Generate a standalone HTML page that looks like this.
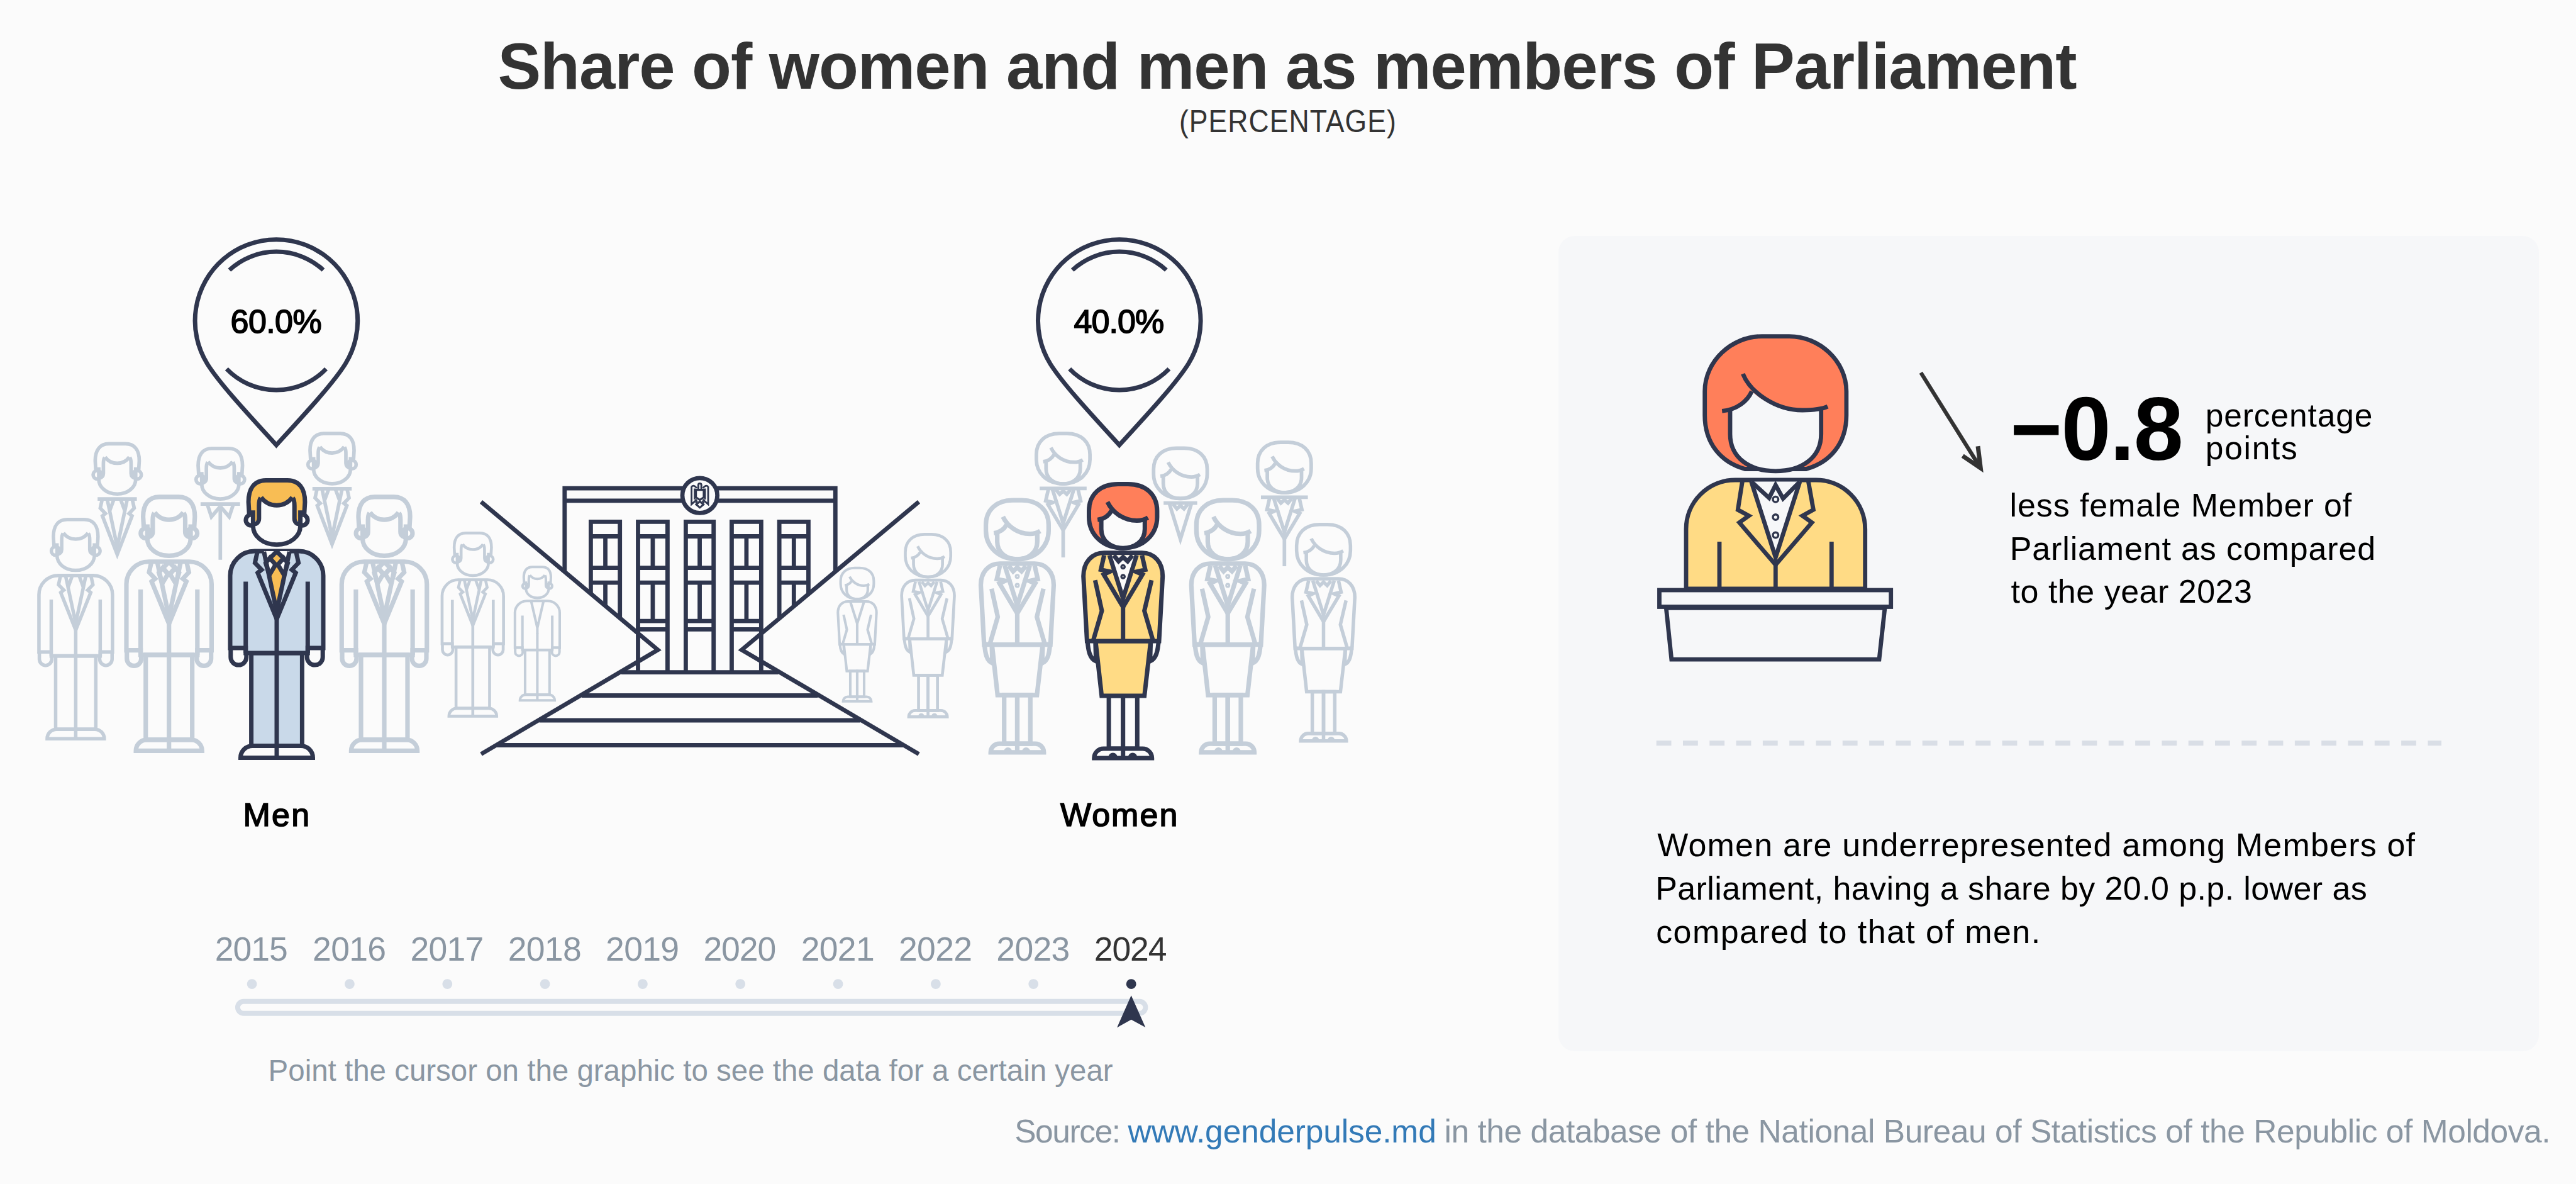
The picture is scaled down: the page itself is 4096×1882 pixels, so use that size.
<!DOCTYPE html>
<html lang="en">
<head>
<meta charset="utf-8">
<title>Share of women and men as members of Parliament</title>
<style>
html,body{margin:0;padding:0;}
body{width:4096px;height:1882px;background:#fbfbfb;position:relative;overflow:hidden;font-family:"Liberation Sans",sans-serif;}
svg#art{position:absolute;left:0;top:0;width:4096px;height:1882px;}
.t{position:absolute;white-space:nowrap;line-height:1;margin:0;padding:0;}
.card{position:absolute;left:2478px;top:375px;width:1559px;height:1296px;background:#f6f7f9;border-radius:26px;}
.dk{--s:#2f364e;}
.bg{--s:#c4ced9;--a:none;--b:none;--w:none;}
.mainman{--a:#c9d9e9;--b:#f8bd54;--w:#fbfbfb;}
.mainwoman{--a:#ffdb85;--b:#ff7f5a;--w:#fbfbfb;}
.fig{stroke:var(--s);stroke-width:7;fill:none;stroke-linejoin:miter;stroke-miterlimit:10;}
</style>
</head>
<body>
<div class="card"></div>
<svg id="art" viewBox="0 0 4096 1882">
<defs>
<!-- MAN HEAD -->
<g id="manHead">
  <circle cx="-40.5" cy="66.7" r="8.6" fill="var(--w)"/>
  <circle cx="40.5" cy="66.7" r="8.6" fill="var(--w)"/>
  <path d="M-37.6,51.3 L-37.6,76 C-37.6,92 -22,105.8 0,105.8 C22,105.8 37.6,92 37.6,76 L37.6,51.3 Z" fill="var(--w)" stroke="none"/>
  <path d="M-43.6,60 L-44.9,38 C-44.9,16 -35,3.5 -17,3.5 L17,3.5 C35,3.5 44.9,16 44.9,38 L43.6,60 L37.6,60 L37.6,68 L28.2,68 L28.2,44 C28.2,38 27.5,34 25,31.5 A31,31 0 0 1 -25,31.5 C-27.5,34 -28.2,38 -28.2,44 L-28.2,68 L-37.6,68 L-37.6,60 Z" fill="var(--b)" stroke="none"/>
  <path d="M-43.6,60 L-44.9,38 C-44.9,16 -35,3.5 -17,3.5 L17,3.5 C35,3.5 44.9,16 44.9,38 L43.6,60"/>
  <path d="M-37.6,51.3 L-37.6,76 C-37.6,92 -22,105.8 0,105.8 C22,105.8 37.6,92 37.6,76 L37.6,51.3"/>
  <path d="M-36,73 C-32,73 -28.2,70 -28.2,64 L-28.2,44 C-28.2,38 -27.5,34 -25.5,31.5 M36,73 C32,73 28.2,70 28.2,64 L28.2,44 C28.2,38 27.5,34 25.5,31.5"/>
  <path d="M-24.8,30.5 A30.6,30.6 0 0 0 24.8,30.5"/>
</g>
<!-- MAN TORSO DETAILS (lapels, shirt, tie) -->
<g id="manChest">
  <path d="M-20.3,116 L20.3,116 L0,212 Z" fill="var(--w)" stroke="none"/>
  <path d="M0,139.5 L-11.7,154 L0,210 L11.7,154 Z" fill="var(--b)" stroke="none"/>
  <path d="M-10.75,126.6 L-1.6,137.1 L-11.7,154 L-17.6,135.1 Z" fill="var(--w)"/>
  <path d="M10.75,126.6 L1.6,137.1 L11.7,154 L17.6,135.1 Z" fill="var(--w)"/>
  <path d="M0,116.5 L10.75,127.4 L0,139.5 L-10.75,127.4 Z" fill="var(--b)" stroke-linejoin="bevel"/>
  <path d="M-20.3,117 L0,212 L20.3,117"/>
  <path d="M-30.7,117 L-34.6,134.6 L-24.1,145.6 L-30.2,150.5 L0,224 L30.2,150.5 L24.1,145.6 L34.6,134.6 L30.7,117"/>
</g>
<!-- FULL MAN -->
<g id="manBody">
  <rect x="-40.4" y="278" width="80.8" height="147.5" fill="var(--a)"/>
  <path d="M-57.5,444.5 A19,19 0 0 1 -38.5,425.5 L38.5,425.5 A19,19 0 0 1 57.5,444.5 Z" fill="var(--w)"/>
  <path d="M-73.2,270 L-73.2,284.6 A12.5,12.5 0 0 0 -48.2,284.6 L-48.2,278" fill="var(--w)"/>
  <path d="M73.2,270 L73.2,284.6 A12.5,12.5 0 0 1 48.2,284.6 L48.2,278" fill="var(--w)"/>
  <path d="M-74,270 L-74,155 A39,39 0 0 1 -35,116 L35,116 A39,39 0 0 1 74,155 L74,270 L49.3,270 L49.3,278 L-49.3,278 L-49.3,270 Z" fill="var(--a)"/>
  <path d="M-49.3,164.5 L-49.3,278 M49.3,164.5 L49.3,278 M0,222 L0,444.5"/>
</g>
<g id="man">
  <use href="#manBody"/>
  <use href="#manChest"/>
  <use href="#manHead"/>
</g>
<!-- medium detail chest -->
<g id="manChest2">
  <path d="M-7,117 L-15,139 M7,117 L15,139"/>
  <path d="M-20.3,117 L0,212 L20.3,117"/>
  <path d="M-30.7,117 L-34.6,134.6 L-24.1,145.6 L-30.2,150.5 L0,226 L30.2,150.5 L24.1,145.6 L34.6,134.6 L30.7,117"/>
</g>
<g id="man2">
  <use href="#manBody"/>
  <use href="#manChest2"/>
  <use href="#manHead"/>
</g>
<g id="man1">
  <use href="#manBody"/>
  <path d="M-20.3,117 L0,205 L20.3,117 M0,200 L0,224"/>
  <use href="#manHead"/>
</g>
<!-- MAN BUST A: head + shoulder line + lapel V -->
<g id="manBustA">
  <use href="#manHead"/>
  <path d="M-40,116 L40,116"/>
  <path d="M-7,117 L-15,139 M7,117 L15,139"/>
  <path d="M-20.3,117 L0,214 L20.3,117"/>
  <path d="M-30.7,117 L-34.6,134.6 L-24.1,145.6 L-30.2,150.5 L0,229 L30.2,150.5 L24.1,145.6 L34.6,134.6 L30.7,117"/>
</g>
<!-- MAN BUST B: head + shoulder line + collar + stick -->
<g id="manBustB">
  <use href="#manHead"/>
  <path d="M-40,116 L40,116"/>
  <path d="M-26,118 L-18,142 L-1,122 M26,118 L18,142 L1,122"/>
  <path d="M0,120 L0,229"/>
</g>
<!-- WOMAN HEAD -->
<g id="womanHead">
  <path d="M0,3.5 L8,3.5 C36,3.5 54.2,20 54.2,46 L54.2,56 C54.2,82 34,105.2 0,105.2 C-34,105.2 -54.2,82 -54.2,56 L-54.2,46 C-54.2,20 -36,3.5 -8,3.5 Z" fill="var(--b)"/>
  <path d="M-34.6,59.5 L-34.6,75 C-34.6,95 -18,105.2 0,105.2 C18,105.2 34.6,95 34.6,75 L34.6,59 C29,61.5 25,61.5 22,61.5 C0,61.5 -12,55 -18,46.5 C-23,54 -28,58 -34.6,59.5 Z" fill="var(--w)" stroke="none"/>
  <path d="M-34.6,60 L-34.6,75 C-34.6,95 -18,105.2 0,105.2 C18,105.2 34.6,95 34.6,75 L34.6,60"/>
  <path d="M-24.8,31.9 C-17,48 0,61.5 22,61.5 C29,61.5 35,59.5 39.6,56.7"/>
  <path d="M-40.5,60.3 C-30,59 -23,54 -18.5,46"/>
</g>
<g id="womanChest">
  <path d="M-21.6,116.5 L21.6,116.5 L0,185.2 Z" fill="var(--w)" stroke="none"/>
  <path d="M-14.7,116.8 L-7.1,126.2 L0,119.5 L7.3,126.2 L14.9,116.8" fill="var(--w)"/>
  <circle cx="0" cy="135" r="2.6" stroke-width="3.4"/>
  <circle cx="0" cy="150.5" r="2.6" stroke-width="3.4"/>
  <path d="M-21.6,116.5 L0,185.2 L21.6,116.5"/>
  <path d="M-30,116.5 L-35.3,139.6 L-20.8,142.6 L-30.7,147.2 L0,198.9 L30.9,147.2 L21,142.9 L35.4,139.6 L30.1,116.5"/>
</g>
<g id="womanBody">
  <rect x="-22.6" y="340" width="22.6" height="84" fill="var(--w)"/>
  <rect x="0" y="340" width="22.6" height="84" fill="var(--w)"/>
  <path d="M-46,439 A15,15 0 0 1 -31,424 L31,424 A15,15 0 0 1 46,439 Z" fill="var(--w)"/>
  <path d="M0,424 L0,439"/>
  <path d="M-56.6,252 C-55.5,268 -53,281 -43,285 L-44,253 Z" fill="var(--w)"/>
  <path d="M56.6,252 C55.5,268 53,281 43,285 L44,253 Z" fill="var(--w)"/>
  <path d="M-43.7,253 L44,253 L34,340 L-34,340 Z" fill="var(--a)"/>
  <path d="M-57.3,253 L-63,150 C-63,128 -50,112.8 -30,112.8 L30,112.8 C50,112.8 63,128 63,150 L57.3,253 Z" fill="var(--a)"/>
  <path d="M-44.4,156.3 L-33.7,205 L-47.4,252 M45.3,156.3 L33.9,205 L47.6,252 M0,198 L0,253"/>
</g>
<g id="heels"><path d="M-23.2,437.5 a7.1,7.1 0 0 1 14.2,0 Z M8.2,437.5 a7.1,7.1 0 0 1 14.2,0 Z" fill="var(--s)" stroke="none"/></g>
<g id="woman">
  <use href="#womanBody"/>
  <use href="#heels"/>
  <use href="#womanChest"/>
  <use href="#womanHead"/>
</g>
<g id="womanChest2">
  <path d="M-14.7,116.8 L-7.1,126.2 L0,119.5 L7.3,126.2 L14.9,116.8"/>
  <path d="M-21.6,116.5 L0,185.2 L21.6,116.5"/>
  <path d="M-30,116.5 L-35.3,139.6 L-20.8,142.6 L-30.7,147.2 L0,198.9 L30.9,147.2 L21,142.9 L35.4,139.6 L30.1,116.5"/>
</g>
<g id="woman2">
  <use href="#womanBody"/>
  <use href="#heels"/>
  <use href="#womanChest2"/>
  <use href="#womanHead"/>
</g>
<g id="woman1">
  <use href="#womanBody"/>
  <path d="M-21.6,116.5 L0,185 L21.6,116.5 M0,180 L0,200"/>
  <use href="#womanHead"/>
</g>
<!-- WOMAN BUST A: head + shoulder line + lapels + stick -->
<g id="womanBustA">
  <use href="#womanHead"/>
  <path d="M-47.5,114.5 L47.5,114.5"/>
  <use href="#womanChest2"/>
  <path d="M0,198 L0,254"/>
</g>
<!-- WOMAN BUST B: head + short line + collar + triangle -->
<g id="womanBustB">
  <use href="#womanHead"/>
  <path d="M-34,114.5 L34,114.5"/>
  <path d="M-14.7,116.8 L-7.1,126.2 L0,119.5 L7.3,126.2 L14.9,116.8"/>
  <path d="M-22,116.5 L0,187.5 L22,116.5"/>
</g>
</defs>
<!-- ================= BUILDING ================= -->
<g stroke="#2f364e" stroke-width="6.8" fill="none" stroke-linecap="butt" stroke-linejoin="miter">
  <!-- outer -->
  <path d="M897.8,910 L897.8,776.2 L1328.3,776.2 L1328.3,910"/>
  <path d="M897.8,795.9 L1328.3,795.9"/>
  <!-- window columns 1 and 5 (clipped by wedges) -->
  <g id="winA">
    <path d="M939.4,1068.7 L939.4,829.4 L985.7,829.4 L985.7,1068.7"/>
    <path d="M939.4,852.5 H985.7 M939.4,902.7 H985.7 M939.4,926.1 H985.7 M962.55,852.5 V902.7 M962.55,926.1 V987.2"/>
  </g>
  <use href="#winA" x="299.75"/>
  <!-- wedge fills -->
  <path d="M760,793.5 L1046,1033 L760,1201.5 Z" fill="#fbfbfb" stroke="none"/>
  <path d="M1466,793.5 L1179.4,1033 L1466,1201.5 Z" fill="#fbfbfb" stroke="none"/>
  <!-- door columns 2,3,4 -->
  <g id="door">
    <path d="M1014.5,1068.7 L1014.5,829.4 L1061.4,829.4 L1061.4,1068.7"/>
    <path d="M1014.5,852.5 H1061.4 M1014.5,902.7 H1061.4 M1014.5,926.1 H1061.4 M1014.5,987.2 H1061.4 M1014.5,1000.3 H1061.4 M1037.95,852.5 V902.7 M1037.95,926.1 V987.2"/>
  </g>
  <path d="M1090.4,1068.7 L1090.4,829.4 L1134.7,829.4 L1134.7,1068.7"/>
  <path d="M1090.4,852.5 H1134.7 M1090.4,902.7 H1134.7 M1090.4,926.1 H1134.7 M1090.4,987.2 H1134.7 M1090.4,1000.3 H1134.7 M1112.55,852.5 V902.7 M1112.55,926.1 V987.2"/>
  <use href="#door" x="148.95"/>
  <!-- wedge strokes -->
  <path d="M765,797.7 L1046,1033 L765,1198.6"/>
  <path d="M1461,797.7 L1179.4,1033 L1461,1198.6"/>
  <!-- base + stairs -->
  <path d="M988,1068.7 H1237.5 M925,1105.5 H1300.5 M857.5,1145 H1368 M789.5,1184.5 H1436"/>
  <!-- emblem -->
  <circle cx="1112.8" cy="787.6" r="27.8" fill="#fbfbfb"/>
  <g stroke-width="2.8">
    <path d="M1099.6,773.2 L1099.6,801.5 L1108,794 M1104.6,776.5 L1104.6,794 M1099.6,773.5 Q1103.5,770 1108,776"/>
    <path d="M1126,773.2 L1126,801.5 L1117.6,794 M1121,776.5 L1121,794 M1126,773.5 Q1122.1,770 1117.6,776"/>
    <path d="M1106.6,778.6 H1119 V790.5 L1112.8,794.6 L1106.6,790.5 Z" stroke-width="3.2"/>
    <path d="M1110.4,777 V771 A2.4,2.4 0 0 1 1115.2,771 V777" stroke-width="3"/>
    <path d="M1112.8,797 L1118.6,802 L1112.8,806.8 L1107,802 Z" stroke-width="3"/>
    <path d="M1109,796 L1106,800 M1116.6,796 L1119.6,800" stroke-width="2.4"/>
  </g>
</g>
<!-- ================= PINS ================= -->
<g stroke="#2f364e" stroke-width="7" fill="none" stroke-linejoin="miter">
  <g id="pin">
    <path d="M439.4,707.5 C397.4,661.5 349.9,610.7 329.7,578.5 A129.3,129.3 0 1 1 549.1,578.5 C528.9,610.7 481.4,661.5 439.4,707.5 Z"/>
    <path d="M364.8,429.2 A110,110 0 0 1 514,429.2"/>
    <path d="M360.3,586.4 A110,110 0 0 0 518.5,586.4"/>
  </g>
  <use href="#pin" x="1340.4"/>
</g>
<!-- ================= MEN ================= -->
<g class="fig bg">
  <use href="#manBustA" transform="translate(186.4,702.7) scale(0.78)" style="stroke-width:7.3"/>
  <use href="#manBustB" transform="translate(350.3,710) scale(0.785)" style="stroke-width:7.3"/>
  <use href="#manBustA" transform="translate(528,686.4) scale(0.78)" style="stroke-width:7.3"/>
  <use href="#man2" transform="translate(120.4,823) scale(0.79)"/>
  <use href="#man" transform="translate(268.7,786.6) scale(0.915)" style="stroke-width:7.85"/>
  <use href="#man" transform="translate(611,786.6) scale(0.915)" style="stroke-width:7.85"/>
  <use href="#man2" transform="translate(751.8,845) scale(0.66)"/>
  <use href="#man1" transform="translate(854.4,899.5) scale(0.481)" style="stroke-width:8.4"/>
</g>
<g class="fig dk mainman">
  <use href="#man" transform="translate(440,760)"/>
</g>
<!-- ================= WOMEN ================= -->
<g class="fig bg">
  <use href="#womanBustA" transform="translate(1690.5,686.4) scale(0.786)" style="stroke-width:7.3"/>
  <use href="#womanBustB" transform="translate(1876.9,709.7) scale(0.786)" style="stroke-width:7.3"/>
  <use href="#womanBustA" transform="translate(2042.3,700.4) scale(0.786)" style="stroke-width:7.3"/>
  <use href="#woman2" transform="translate(2104.5,830.9) scale(0.79)"/>
  <use href="#woman" transform="translate(1617.5,792) scale(0.92)" style="stroke-width:7.85"/>
  <use href="#woman" transform="translate(1952.2,792) scale(0.92)" style="stroke-width:7.85"/>
  <use href="#woman2" transform="translate(1475.6,847) scale(0.666)"/>
  <use href="#woman1" transform="translate(1363,901) scale(0.487)" style="stroke-width:8.4"/>
</g>
<g class="fig dk mainwoman">
  <use href="#woman" transform="translate(1785.7,766)"/>
</g>
<!-- ================= SLIDER ================= -->
<rect x="377.9" y="1591.8" width="1443.5" height="19" rx="9.5" fill="none" stroke="#d8dfe8" stroke-width="7.9"/>
<g fill="#d8dfe8"><circle cx="400.6" cy="1564.1" r="7.9"/><circle cx="555.9" cy="1564.1" r="7.9"/><circle cx="711.3" cy="1564.1" r="7.9"/><circle cx="866.6" cy="1564.1" r="7.9"/><circle cx="1021.9" cy="1564.1" r="7.9"/><circle cx="1177.2" cy="1564.1" r="7.9"/><circle cx="1332.6" cy="1564.1" r="7.9"/><circle cx="1487.9" cy="1564.1" r="7.9"/><circle cx="1643.2" cy="1564.1" r="7.9"/></g>
<circle cx="1798.7" cy="1564.2" r="7.9" fill="#2f364e"/>
<path d="M1798.7,1582.3 L1821.3,1633 L1798.7,1620.8 L1776.1,1633.4 Z" fill="#2f364e"/>
<!-- ================= PODIUM WOMAN ================= -->
<g stroke="#2f364e" stroke-width="6.8" fill="none" stroke-linejoin="miter" stroke-miterlimit="10">
  <!-- hair -->
  <path d="M2823.3,534.6 L2845,534.6 C2893,534.6 2935.9,574 2935.9,622 L2935.9,660 C2935.9,705 2910,735 2872,745.5 L2774.6,745.5 C2736.6,735 2710.7,705 2710.7,660 L2710.7,622 C2710.7,574 2753.6,534.6 2801.6,534.6 Z" fill="#ff7f5a"/>
  <!-- face fill -->
  <path d="M2751,652 L2751,690 C2751,727 2781,748.8 2823.3,748.8 C2865.6,748.8 2895.7,727 2895.7,690 L2895.7,650 C2880,652.5 2872,652 2866,652 C2823.3,652 2796,633 2785.5,621.5 C2777,638 2765,648 2751,652 Z" fill="#f6f7f9" stroke="none"/>
  <path d="M2751,652 L2751,690 C2751,727 2781,748.8 2823.3,748.8 C2865.6,748.8 2895.7,727 2895.7,690 L2895.7,650"/>
  <path d="M2771.3,594.2 C2783,623.5 2823.3,652 2866,652 C2885,652 2899,649.5 2906.1,646.2"/>
  <path d="M2738.2,653.3 C2762,651 2778.5,637.7 2785.5,622"/>
  <!-- jacket -->
  <path d="M2681,936 L2681,841 A78,78 0 0 1 2759,763 L2887.7,763 A78,78 0 0 1 2965.7,841 L2965.7,936 Z" fill="#ffdb85"/>
  <path d="M2784.6,765.4 L2862,765.4 L2823.3,886 Z" fill="#f6f7f9" stroke="none"/>
  <path d="M2785.5,766.3 L2813,791.4 L2823.3,771 L2835.2,792.3 L2861.2,766.3" fill="#f6f7f9"/>
  <circle cx="2823.3" cy="793.7" r="4.3" stroke-width="3.4"/>
  <circle cx="2823.3" cy="822.1" r="4.3" stroke-width="3.4"/>
  <circle cx="2823.3" cy="850.5" r="4.3" stroke-width="3.4"/>
  <path d="M2784.6,765.4 L2823.3,886 L2862,765.4"/>
  <path d="M2770.4,765.4 L2763.3,810.3 L2780.8,819.8 L2765.7,830.6 L2823.3,897.8 L2881,830.6 L2866,819.8 L2883.4,810.3 L2875.4,765.4"/>
  <path d="M2734,860.9 V936 M2912.3,860.9 V936 M2823.3,893 V936"/>
  <!-- podium -->
  <path d="M2649.3,966.4 L2657.8,1048.2 L2988,1048.2 L2997,966.4 Z" fill="#f6f7f9"/>
  <rect x="2638.5" y="938" width="368.2" height="26.5" fill="#f6f7f9"/>
</g>
<!-- arrow -->
<g stroke="#333" fill="none" stroke-linejoin="miter" stroke-miterlimit="10">
  <path d="M3054.3,592.4 L3148,742" stroke-width="6.2"/>
  <path d="M3120.7,724.6 L3149.3,744.1 L3145,709.2" stroke-width="7"/>
</g>
<!-- dashed -->
<path d="M2633.7,1181.2 H3882" stroke="#d9dee6" stroke-width="8" stroke-dasharray="23.8 18.5" fill="none"/>
</svg>
<!-- ================= TEXT ================= -->
<div class="t" id="title" style="left:791.40px;top:53.91px;font-size:103px;font-weight:bold;color:#333;letter-spacing:-1.033px;">Share of women and men as members of Parliament</div>
<div class="t" id="sub" style="left:1874.80px;top:168.00px;font-size:49.5px;font-weight:normal;color:#333;letter-spacing:1.152px;transform:scaleX(0.9);transform-origin:0 0;">(PERCENTAGE)</div>
<div class="t" id="p1" style="left:366.60px;top:484.81px;font-size:52px;font-weight:normal;color:#000;letter-spacing:-0.600px;-webkit-text-stroke:1.6px #000;">60.0%</div>
<div class="t" id="p2" style="left:1707.60px;top:484.81px;font-size:52px;font-weight:normal;color:#000;letter-spacing:-0.975px;-webkit-text-stroke:1.6px #000;">40.0%</div>
<div class="t" id="men" style="left:386.40px;top:1268.91px;font-size:52px;font-weight:normal;color:#000;letter-spacing:2.350px;-webkit-text-stroke:1.6px #000;">Men</div>
<div class="t" id="women" style="left:1686.00px;top:1268.91px;font-size:52px;font-weight:normal;color:#000;letter-spacing:2.025px;-webkit-text-stroke:1.6px #000;">Women</div>
<div class="t" id="hint" style="left:426.60px;top:1677.60px;font-size:47.5px;font-weight:normal;color:#8a96a2;letter-spacing:-0.014px;">Point the cursor on the graphic to see the data for a certain year</div>
<div class="t" id="big" style="left:3196.20px;top:611.00px;font-size:142px;font-weight:bold;color:#000;letter-spacing:-1.633px;">−0.8</div>
<div class="t" id="pp1" style="left:3506.80px;top:635.41px;font-size:51.5px;font-weight:normal;color:#000;letter-spacing:0.878px;">percentage</div>
<div class="t" id="pp2" style="left:3506.80px;top:686.60px;font-size:51.5px;font-weight:normal;color:#000;letter-spacing:1.720px;">points</div>
<div class="t" id="l1" style="left:3195.60px;top:777.00px;font-size:52px;font-weight:normal;color:#000;letter-spacing:0.885px;">less female Member of</div>
<div class="t" id="l2" style="left:3195.80px;top:845.91px;font-size:52px;font-weight:normal;color:#000;letter-spacing:0.843px;">Parliament as compared</div>
<div class="t" id="l3" style="left:3197.60px;top:913.81px;font-size:52px;font-weight:normal;color:#000;letter-spacing:0.500px;">to the year 2023</div>
<div class="t" id="b1" style="left:2635.20px;top:1317.10px;font-size:52px;font-weight:normal;color:#000;letter-spacing:1.181px;">Women are underrepresented among Members of</div>
<div class="t" id="b2" style="left:2632.20px;top:1386.21px;font-size:52px;font-weight:normal;color:#000;letter-spacing:0.398px;">Parliament, having a share by 20.0 p.p. lower as</div>
<div class="t" id="b3" style="left:2633.20px;top:1455.31px;font-size:52px;font-weight:normal;color:#000;letter-spacing:1.426px;">compared to that of men.</div>
<div class="t" id="s1" style="left:1613.20px;top:1772.91px;font-size:51.5px;font-weight:normal;color:#8a96a2;letter-spacing:-1.417px;">Source:</div>
<div class="t" id="s2" style="left:1793.60px;top:1772.91px;font-size:51.5px;font-weight:normal;color:#337ab7;letter-spacing:-0.129px;">www.genderpulse.md</div>
<div class="t" id="s3" style="left:2296.40px;top:1772.91px;font-size:51.5px;font-weight:normal;color:#8a96a2;letter-spacing:-0.454px;">in the database of the National Bureau of Statistics of the Republic of Moldova.</div>
<div class="t" id="y2015" style="left:341.80px;top:1481.81px;font-size:53.5px;font-weight:normal;color:#8a96a2;letter-spacing:-1.033px;">2015</div>
<div class="t" id="y2016" style="left:497.12px;top:1481.81px;font-size:53.5px;font-weight:normal;color:#8a96a2;letter-spacing:-0.700px;">2016</div>
<div class="t" id="y2017" style="left:652.44px;top:1481.81px;font-size:53.5px;font-weight:normal;color:#8a96a2;letter-spacing:-0.700px;">2017</div>
<div class="t" id="y2018" style="left:807.76px;top:1481.81px;font-size:53.5px;font-weight:normal;color:#8a96a2;letter-spacing:-0.700px;">2018</div>
<div class="t" id="y2019" style="left:963.08px;top:1481.81px;font-size:53.5px;font-weight:normal;color:#8a96a2;letter-spacing:-0.700px;">2019</div>
<div class="t" id="y2020" style="left:1118.40px;top:1481.81px;font-size:53.5px;font-weight:normal;color:#8a96a2;letter-spacing:-1.033px;">2020</div>
<div class="t" id="y2021" style="left:1273.72px;top:1481.81px;font-size:53.5px;font-weight:normal;color:#8a96a2;letter-spacing:-0.700px;">2021</div>
<div class="t" id="y2022" style="left:1429.04px;top:1481.81px;font-size:53.5px;font-weight:normal;color:#8a96a2;letter-spacing:-0.700px;">2022</div>
<div class="t" id="y2023" style="left:1584.36px;top:1481.81px;font-size:53.5px;font-weight:normal;color:#8a96a2;letter-spacing:-0.700px;">2023</div>
<div class="t" id="y2024" style="left:1739.68px;top:1481.81px;font-size:53.5px;font-weight:normal;color:#333;letter-spacing:-1.033px;">2024</div>
</body>
</html>
